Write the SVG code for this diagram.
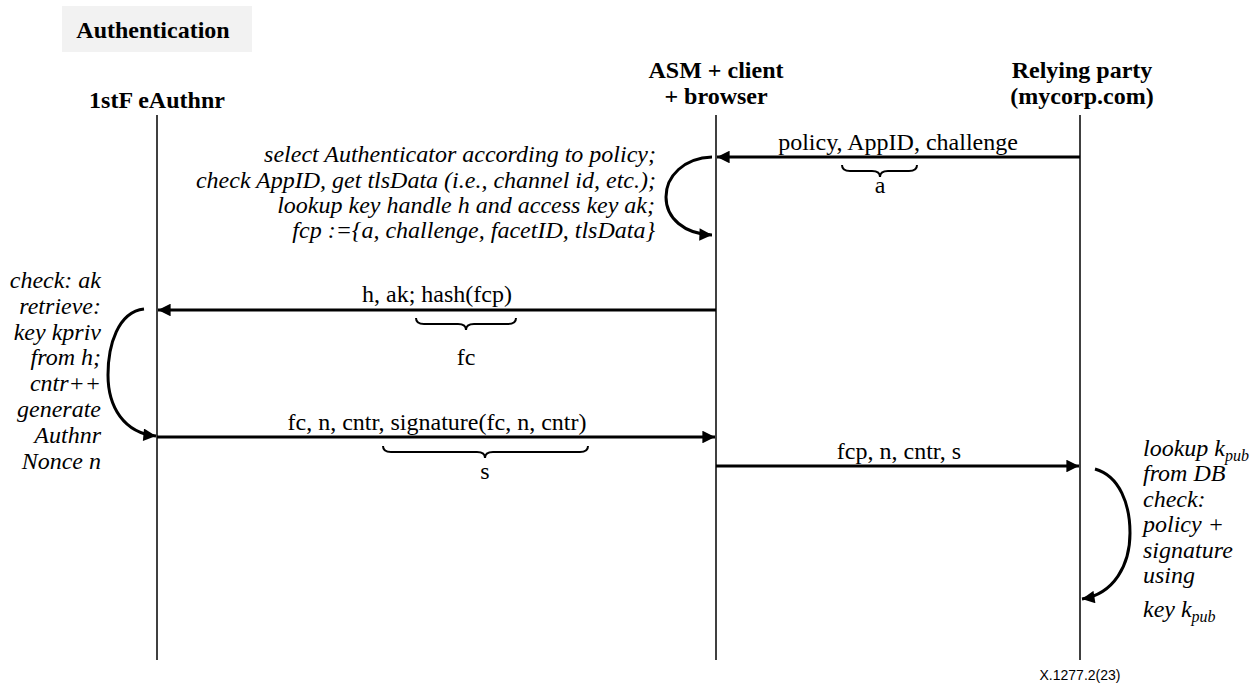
<svg xmlns="http://www.w3.org/2000/svg" width="1260" height="685" viewBox="0 0 1260 685">
  <style>
    .hdr { font-family: "Liberation Serif", "Times New Roman", serif; font-weight: bold; font-size: 24px; fill: #000; text-anchor: middle; }
    .msg { font-family: "Liberation Serif", "Times New Roman", serif; font-size: 24px; fill: #000; text-anchor: middle; }
    .note { font-family: "Liberation Serif", "Times New Roman", serif; font-style: italic; font-size: 24px; fill: #000; }
    .sub { font-size: 16px; }
    .life { stroke: #000; stroke-width: 1.5; fill: none; }
    .arrow { stroke: #000; stroke-width: 3; fill: none; }
    .brace { stroke: #000; stroke-width: 2; fill: none; }
    .foot { font-family: "Liberation Sans", Arial, sans-serif; font-size: 14px; fill: #000; text-anchor: middle; }
  </style>
  <defs>
    <marker id="head" viewBox="0 0 10 10" refX="10" refY="5" markerWidth="5" markerHeight="4.2" markerUnits="strokeWidth" orient="auto">
      <path d="M0,0 L10,5 L0,10 z" fill="#000"/>
    </marker>
  </defs>

  <rect width="1260" height="685" fill="#fff"/>

  <!-- title -->
  <g id="title">
    <rect x="62" y="6" width="190" height="46" fill="#f2f2f2"/>
    <text class="hdr" x="153" y="38">Authentication</text>
  </g>

  <!-- participants with lifelines -->
  <g id="authenticator">
    <text class="hdr" x="157" y="108">1stF eAuthnr</text>
    <line class="life" x1="157" y1="115" x2="157" y2="660"/>
  </g>
  <g id="asm-client">
    <text class="hdr" x="716" y="78">ASM + client</text>
    <text class="hdr" x="716" y="104">+ browser</text>
    <line class="life" x1="716" y1="115" x2="716" y2="660"/>
  </g>
  <g id="relying-party">
    <text class="hdr" x="1082" y="78">Relying party</text>
    <text class="hdr" x="1082" y="104">(mycorp.com)</text>
    <line class="life" x1="1080" y1="115" x2="1080" y2="660"/>
  </g>

  <!-- local processing notes -->
  <g id="asm-note">
    <text class="note" text-anchor="end" x="656" y="162">select Authenticator according to policy;</text>
    <text class="note" text-anchor="end" x="656" y="188">check AppID, get tlsData (i.e., channel id, etc.);</text>
    <text class="note" text-anchor="end" x="655" y="213">lookup key handle h and access key ak;</text>
    <text class="note" text-anchor="end" x="655" y="238">fcp :={a, challenge, facetID, tlsData}</text>
  </g>
  <g id="authnr-note">
    <text class="note" text-anchor="end" x="101" y="288">check: ak</text>
    <text class="note" text-anchor="end" x="101" y="314">retrieve:</text>
    <text class="note" text-anchor="end" x="101" y="340">key kpriv</text>
    <text class="note" text-anchor="end" x="101" y="365">from h;</text>
    <text class="note" text-anchor="end" x="101" y="391">cntr++</text>
    <text class="note" text-anchor="end" x="101" y="417">generate</text>
    <text class="note" text-anchor="end" x="101" y="443">Authnr</text>
    <text class="note" text-anchor="end" x="101" y="469">Nonce n</text>
  </g>
  <g id="rp-note">
    <text class="note" x="1143" y="456">lookup k<tspan class="sub" dy="5">pub</tspan></text>
    <text class="note" x="1143" y="481">from DB</text>
    <text class="note" x="1143" y="507">check:</text>
    <text class="note" x="1143" y="532">policy +</text>
    <text class="note" x="1143" y="558">signature</text>
    <text class="note" x="1143" y="583">using</text>
    <text class="note" x="1143" y="617">key k<tspan class="sub" dy="5">pub</tspan></text>
  </g>

  <!-- connectors -->
  <g id="connectors">
    <!-- RP -> ASM -->
    <line class="arrow" x1="1080" y1="157" x2="717" y2="157" marker-end="url(#head)"/>
    <text class="msg" x="898" y="150">policy, AppID, challenge</text>
    <path class="brace" d="M842,165 q0,6 8,6 L872,171 q8,0 8,6 q0,-6 8,-6 L909,171 q8,0 8,-6"/>
    <text class="msg" x="880" y="193">a</text>

    <!-- ASM self step -->
    <path class="arrow" d="M712,157 C684,158 666,176 666,197 C666,218 684,234 712,235" marker-end="url(#head)"/>

    <!-- ASM -> authenticator -->
    <line class="arrow" x1="716" y1="310" x2="158" y2="310" marker-end="url(#head)"/>
    <text class="msg" x="437" y="302">h, ak; hash(fcp)</text>
    <path class="brace" d="M416,318 q0,6 8,6 L458,324 q8,0 8,6 q0,-6 8,-6 L508,324 q8,0 8,-6"/>
    <text class="msg" x="466" y="365">fc</text>

    <!-- authenticator self step -->
    <path class="arrow" d="M144,309 C118,312 108,345 108,375 C108,407 124,433 156,436" marker-end="url(#head)"/>

    <!-- authenticator -> ASM -->
    <line class="arrow" x1="157" y1="437" x2="715" y2="437" marker-end="url(#head)"/>
    <text class="msg" x="437" y="430">fc, n, cntr, signature(fc, n, cntr)</text>
    <path class="brace" d="M383,446 q0,6 8,6 L477,452 q8,0 8,6 q0,-6 8,-6 L580,452 q8,0 8,-6"/>
    <text class="msg" x="485" y="479">s</text>

    <!-- ASM -> RP -->
    <line class="arrow" x1="716" y1="466" x2="1079" y2="466" marker-end="url(#head)"/>
    <text class="msg" x="899" y="459">fcp, n, cntr, s</text>

    <!-- RP self step -->
    <path class="arrow" d="M1095,469 C1120,476 1130,505 1130,533 C1130,565 1114,594 1082,599" marker-end="url(#head)"/>
  </g>

  <text class="foot" x="1080" y="680">X.1277.2(23)</text>
</svg>
